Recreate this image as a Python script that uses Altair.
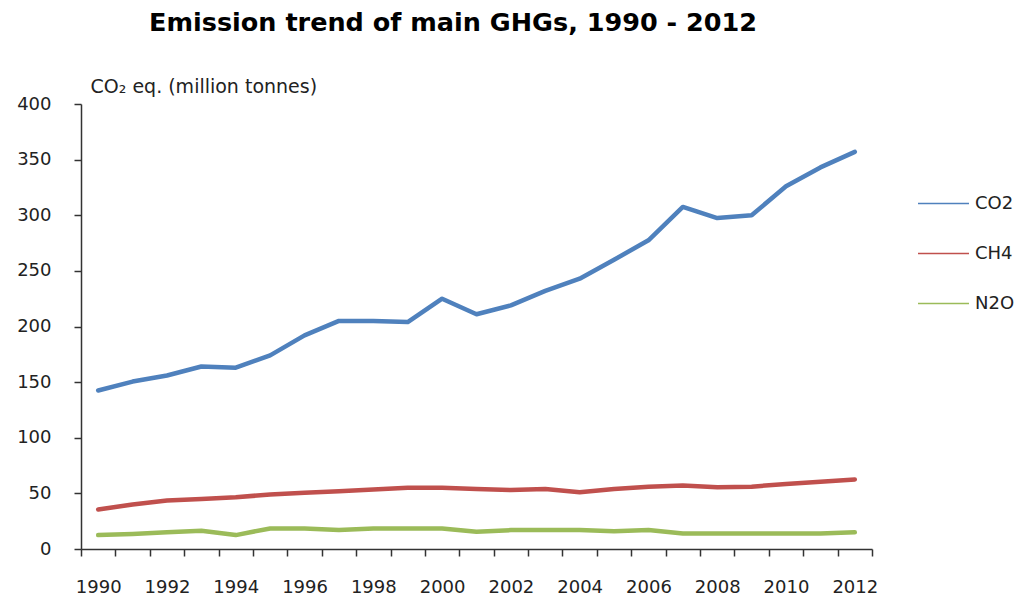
import altair as alt
import pandas as pd

years = list(range(1990, 2013))
co2 = [142.5, 150.5, 156, 164, 163, 174, 192, 205, 205, 204, 225, 211, 219, 232,
       243, 260, 277.5, 307.5, 297.5, 300, 326, 343, 357]
ch4 = [35.5, 40, 43.5, 45, 46.5, 49, 50.5, 52, 53.5, 55, 55, 54, 53, 54, 51,
       54, 56, 57, 55.5, 56, 58.5, 60.5, 62.5]
n2o = [12.5, 13.5, 15, 16.5, 12.5, 18.5, 18.5, 17, 18.5, 18.5, 18.5, 15.5, 17,
       17, 17, 16, 17, 14, 14, 14, 14, 14, 15]
series = ["CO2", "CH4", "N2O"]
colors = ["#4F81BD", "#C0504D", "#9BBB59"]
title_text = "Emission trend of main GHGs, 1990 - 2012"
y_title = "CO\u2082 eq.  (million tonnes)"

rows = []
for name, vals in zip(series, [co2, ch4, n2o]):
    for yr, v in zip(years, vals):
        rows.append({"Year": yr, "Gas": name, "Value": v})
df = pd.DataFrame(rows)

FONT = "DejaVu Sans"

lines = alt.Chart(df).mark_line(strokeWidth=4.5, strokeJoin="round", strokeCap="round").encode(
    x=alt.X("Year:O", bandPosition=0.5,
            scale=alt.Scale(type="band", paddingInner=0, paddingOuter=0),
            axis=alt.Axis(title=None, tickBand="extent", labelAngle=0,
                          labelExpr="datum.value % 2 == 0 ? datum.label : ''",
                          labelFont=FONT, labelFontSize=18, labelColor="#222",
                          labelPadding=22, tickSize=7, tickWidth=1.5, tickColor="#333",
                          domainColor="#333", domainWidth=1.5)),
    y=alt.Y("Value:Q", scale=alt.Scale(domain=[0, 400], nice=False),
            axis=alt.Axis(values=list(range(0, 401, 50)), grid=False,
                          title=y_title, titleAngle=0, titleX=9, titleY=-12,
                          titleAlign="left", titleBaseline="alphabetic",
                          titleFont=FONT, titleFontSize=19, titleFontWeight="normal",
                          titleColor="#222",
                          labelFont=FONT, labelFontSize=18, labelColor="#222",
                          labelPadding=23, tickSize=7, tickWidth=1.5, tickColor="#333",
                          domainColor="#333", domainWidth=1.5)),
    color=alt.Color("Gas:N", scale=alt.Scale(domain=series, range=colors),
                    legend=alt.Legend(title=None, orient="none", legendX=836, legendY=73,
                                      symbolType="stroke", symbolSize=2601,
                                      symbolStrokeWidth=1.5, labelFont=FONT,
                                      labelFontSize=18, labelColor="#222",
                                      labelOffset=5, rowPadding=14)),
)

title = alt.Chart(pd.DataFrame({"t": [title_text]})).mark_text(
    font=FONT, fontSize=25.5, fontWeight="bold", align="center", baseline="alphabetic",
    color="#000"
).encode(text="t:N", x=alt.value(372), y=alt.value(-73))

chart = alt.layer(lines, title).properties(
    width=791, height=445,
    autosize=alt.AutoSizeParams(type="none"),
    padding={"left": 81, "top": 104, "right": 148, "bottom": 51},
).configure(background="white", view=alt.ViewConfig(stroke=None))

chart.save("out.html", embed_options={"renderer": "svg", "actions": False})
